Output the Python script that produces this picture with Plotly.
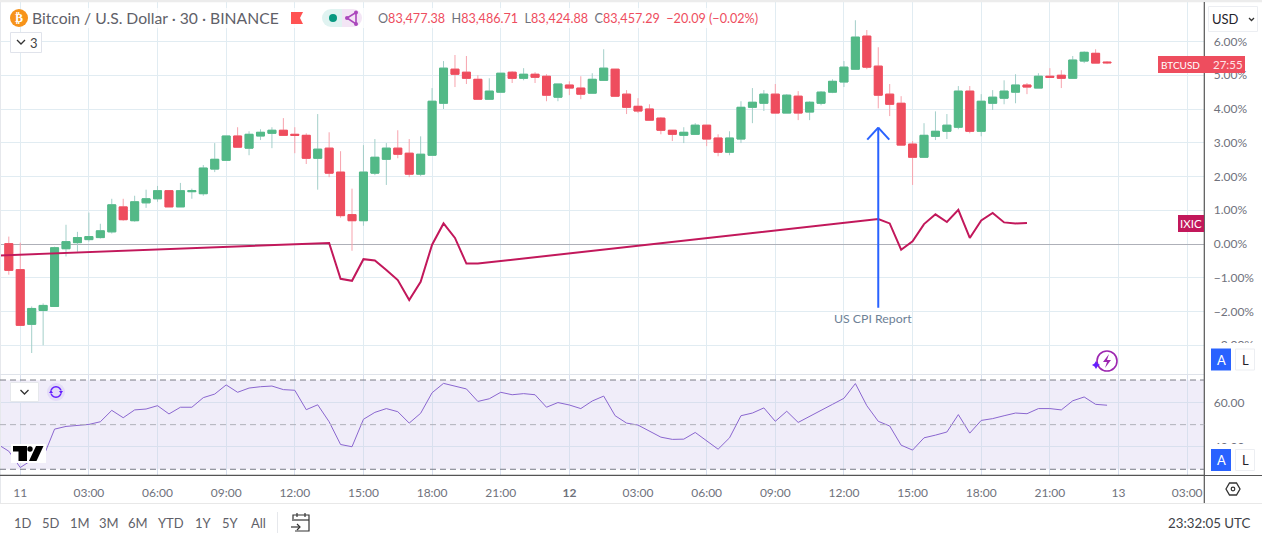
import pandas as pd
import plotly.graph_objects as go

W, H = 1262, 540
FONT = "Lato"

# half-hour bars, first bar is 10 Mar 23:30
bar_start = "2025-03-10 23:30"
opens = [0.01,-0.76,-2.38,-1.97,-1.85,-0.14,0.04,0.13,0.19,0.36,1.10,0.69,1.22,1.34,1.58,1.10,1.55,1.49,2.22,2.48,3.20,2.84,3.20,3.28,3.37,3.25,3.22,2.54,2.84,2.13,0.87,0.69,2.10,2.51,2.84,2.69,2.07,2.63,4.17,5.18,5.09,4.88,4.29,4.50,5.09,4.91,5.03,4.97,4.35,4.71,4.62,4.47,4.85,5.18,4.44,4.08,4.00,3.73,3.37,3.22,3.25,3.52,3.14,2.72,3.11,4.05,4.17,4.44,3.88,4.38,3.91,4.17,4.50,4.80,5.18,6.16,5.27,4.44,4.17,2.96,2.57,3.19,3.34,3.46,4.53,3.34,4.17,4.32,4.50,4.71,4.62,4.97,5.00,4.91,5.42,5.65,5.39]
highs = [0.22,0.04,-1.85,-1.76,-0.08,0.57,0.36,0.93,0.60,1.34,1.34,1.43,1.61,1.72,1.58,1.81,1.64,2.34,2.99,3.20,3.46,3.34,3.40,3.46,3.73,3.46,3.28,3.85,3.31,2.75,1.64,2.93,3.11,2.99,3.37,3.11,3.19,4.62,5.42,5.60,5.57,5.00,4.91,5.06,5.12,5.21,5.09,5.03,4.74,4.82,4.97,5.06,5.77,5.18,4.56,4.32,4.14,3.76,3.37,3.46,3.58,3.52,3.25,3.34,4.23,4.62,4.56,4.74,4.44,4.53,4.23,4.53,4.88,5.42,6.63,6.34,5.83,4.74,4.38,3.05,3.58,3.93,3.85,4.68,4.68,4.44,4.56,4.85,5.03,4.77,5.06,5.21,5.15,5.57,5.71,5.77,5.42]
lows = [-0.91,-2.41,-3.23,-3.00,-1.85,-0.37,-0.23,0.07,0.16,0.31,0.69,0.66,1.07,1.25,1.10,1.10,1.34,1.43,2.13,2.48,2.87,2.63,3.08,2.84,3.22,2.69,2.37,1.61,1.98,0.78,-0.20,0.54,2.04,1.75,2.54,1.98,2.01,2.63,4.00,4.65,4.74,4.29,4.29,4.50,4.77,4.85,4.77,4.23,4.23,4.41,4.29,4.47,4.85,4.38,3.85,3.88,3.67,3.25,3.05,2.99,3.25,2.90,2.60,2.63,2.99,3.58,3.94,3.88,3.88,3.67,3.67,4.11,4.47,4.65,5.18,5.18,4.02,3.79,2.93,1.75,2.57,3.08,3.11,3.40,3.28,3.19,3.97,4.14,4.17,4.44,4.62,4.94,4.62,4.91,5.36,5.36,5.33]
closes = [-0.78,-2.41,-1.91,-1.82,-0.11,0.07,0.19,0.22,0.39,1.16,0.72,1.25,1.34,1.58,1.10,1.58,1.58,2.25,2.51,3.20,2.87,3.25,3.31,3.37,3.22,3.22,2.54,2.81,2.10,0.84,0.69,2.13,2.57,2.84,2.66,2.07,2.66,4.23,5.21,5.03,4.91,4.29,4.53,5.06,4.91,5.03,4.94,4.41,4.74,4.62,4.44,4.88,5.21,4.38,4.05,3.94,3.67,3.37,3.25,3.31,3.52,3.11,2.72,3.14,4.05,4.20,4.44,3.88,4.41,3.88,4.20,4.50,4.82,5.24,6.13,5.24,4.41,4.14,2.93,2.57,3.22,3.34,3.52,4.53,3.34,4.23,4.35,4.53,4.71,4.65,4.97,4.94,4.91,5.45,5.68,5.36,5.37]

# IXIC: bar number since bar_start, percent
ixic_bars = [-1,28,29,30,31,32,33,34,35,36,37,38,39,40,41,76,77,78,79,80,81,82,83,84,85,86,87,88,89]
ixic_vals = [-0.34,0.03,-1.03,-1.09,-0.45,-0.49,-0.77,-1.07,-1.66,-1.12,-0.02,0.61,0.18,-0.58,-0.58,0.74,0.61,-0.17,0.08,0.59,0.88,0.65,1.01,0.18,0.70,0.92,0.64,0.61,0.62]

rsi_vals = [38.1,30.8,34.1,35.3,48.0,49.2,49.8,50.1,51.3,56.4,53.1,56.6,57.0,58.5,54.8,57.8,57.8,62.1,63.7,67.8,64.5,66.4,67.0,67.3,65.7,65.4,56.7,58.9,51.3,41.1,40.1,52.4,55.5,57.2,55.8,50.7,55.1,64.3,68.5,67.3,66.0,60.4,61.6,64.5,63.4,63.9,63.4,57.8,59.9,58.8,57.2,60.6,62.8,54.0,50.7,49.8,47.1,44.4,43.4,43.5,46.5,42.6,39.0,44.1,54.0,55.2,57.5,51.5,56.0,51.0,53.6,56.3,59.1,61.8,68.4,58.5,51.5,49.4,40.8,38.6,44.1,45.3,46.7,54.5,46.2,51.9,52.7,54.0,55.2,54.9,57.2,57.2,56.6,60.7,62.4,59.1,58.7]
rsi_first_time = "2025-03-10 23:00"
rsi_first_val = 41.3

tick_times = ["2025-03-11 00:00","2025-03-11 03:00","2025-03-11 06:00","2025-03-11 09:00","2025-03-11 12:00","2025-03-11 15:00","2025-03-11 18:00","2025-03-11 21:00","2025-03-12 00:00","2025-03-12 03:00","2025-03-12 06:00","2025-03-12 09:00","2025-03-12 12:00","2025-03-12 15:00","2025-03-12 18:00","2025-03-12 21:00","2025-03-13 00:00","2025-03-13 03:00"]
tick_labels = ["11","03:00","06:00","09:00","12:00","15:00","18:00","21:00","<b>12</b>","03:00","06:00","09:00","12:00","15:00","18:00","21:00","13","03:00"]
pct_ticks = [6,5,4,3,2,1,0,-1,-2,-3]
pct_labels = ["6.00%","5.00%","4.00%","3.00%","2.00%","1.00%","0.00%","\u22121.00%","\u22122.00%","\u22123.00%"]
range_buttons = ["1D","5D","1M","3M","6M","YTD","1Y","5Y","All"]
range_button_px = [23,51,80,109,138,171,203,230,258]

GREEN, RED = "#53b987", "#ee4d5e"
GREEN_WICK, RED_WICK = "#a3cfc9", "#f7a3ad"
GRID = "#e1ecf2"
LABEL = "#6f727c"

times = pd.date_range(bar_start, periods=len(closes), freq="30min")
t0 = pd.Timestamp(bar_start)
def bar_time(n):
    return t0 + pd.Timedelta(minutes=30 * n)

# pixel helpers for chart furniture
def px(x): return x / W
def py(y): return 1 - y / H
PANE_R = 1204.3
x_range = [bar_time(-0.77), bar_time(104.5)]

fig = go.Figure()
fig.add_trace(go.Candlestick(
    x=times, open=opens, high=highs, low=lows, close=closes,
    increasing=dict(line=dict(color=GREEN_WICK, width=1), fillcolor=GREEN),
    decreasing=dict(line=dict(color=RED_WICK, width=1), fillcolor=RED),
    hoverinfo="skip", xaxis="x", yaxis="y"))
fig.add_trace(go.Candlestick(
    x=times, open=opens, close=closes,
    high=[max(a, b) for a, b in zip(opens, closes)],
    low=[min(a, b) for a, b in zip(opens, closes)],
    increasing=dict(line=dict(color=GREEN, width=1), fillcolor=GREEN),
    decreasing=dict(line=dict(color=RED, width=1), fillcolor=RED),
    hoverinfo="skip", xaxis="x", yaxis="y"))
fig.add_trace(go.Scatter(
    x=[bar_time(n) for n in ixic_bars], y=ixic_vals, mode="lines",
    line=dict(color="#c2185b", width=2), hoverinfo="skip", xaxis="x", yaxis="y"))
fig.add_trace(go.Scatter(
    x=[pd.Timestamp(rsi_first_time)] + list(times), y=[rsi_first_val] + rsi_vals, mode="lines",
    line=dict(color="#8a66cf", width=1), hoverinfo="skip", xaxis="x2", yaxis="y2"))

shapes, ann = [], []
def rect(x0, y0, x1, y1, fill, line=None, layer="above", lw=1):
    shapes.append(dict(type="rect", xref="paper", yref="paper", x0=px(x0), x1=px(x1), y0=py(y0), y1=py(y1),
                       fillcolor=fill, line=dict(color=line or "rgba(0,0,0,0)", width=lw if line else 0), layer=layer))
def circle(cx, cy, r, fill, line=None, lw=1):
    shapes.append(dict(type="circle", xref="paper", yref="paper", x0=px(cx - r), x1=px(cx + r), y0=py(cy - r), y1=py(cy + r),
                       fillcolor=fill, line=dict(color=line or "rgba(0,0,0,0)", width=lw if line else 0), layer="above"))
def seg(x0, y0, x1, y1, color, lw=1, dash="solid", layer="above"):
    shapes.append(dict(type="line", xref="paper", yref="paper", x0=px(x0), x1=px(x1), y0=py(y0), y1=py(y1),
                       line=dict(color=color, width=lw, dash=dash), layer=layer))
def poly(points, fill=None, line=None, lw=1, close=True):
    d = "M" + " L".join(f"{px(a):.5f},{py(b):.5f}" for a, b in points) + (" Z" if close else "")
    shapes.append(dict(type="path", xref="paper", yref="paper", path=d, fillcolor=fill or "rgba(0,0,0,0)",
                       line=dict(color=line or "rgba(0,0,0,0)", width=lw if line else 0), layer="above"))
def text(x, y, s, size=12, color=LABEL, anchor="left", family=FONT):
    ann.append(dict(xref="paper", yref="paper", x=px(x), y=py(y), text=s, showarrow=False, xanchor=anchor, yanchor="middle",
                    font=dict(size=size, color=color, family=family), xshift=0, yshift=0, borderpad=0, borderwidth=0))

# panes
rect(0, 380.3, PANE_R, 469.3, "#f0edf9", layer="below")
rect(0, 0, W, 2.2, "#ececec")
seg(0.5, 2, 0.5, 503, "#e6e8ec")
seg(0, 374.5, PANE_R, 374.5, "#dfe3ea")
seg(0, 503.5, W, 503.5, "#e8e8e8")
seg(0, 475.3, W, 475.3, "#555555", 1.2)
seg(PANE_R, 2, PANE_R, 503, "#555555", 1.2)

# RSI levels
for level, col in [(70, "#787b86"), (50, "#b0b2bb"), (30, "#787b86")]:
    shapes.append(dict(type="line", xref="paper", yref="y2", x0=0, x1=px(PANE_R), y0=level, y1=level,
                       line=dict(color=col, width=1, dash="6px,4px"), layer="above"))

# arrow drawing
arrow_t = bar_time(76)
shapes.append(dict(type="line", xref="x", yref="y", x0=arrow_t, x1=arrow_t, y0=-1.89, y1=3.45,
                   line=dict(color="#2962ff", width=2), layer="above"))
for sign in (-1, 1):
    shapes.append(dict(type="line", xref="x", yref="y", xsizemode="pixel", ysizemode="pixel",
                       xanchor=arrow_t, yanchor=3.45, x0=0, y0=0, x1=sign * 11, y1=-12,
                       line=dict(color="#2962ff", width=2), layer="above"))
ann.append(dict(xref="x", yref="y", x=arrow_t, y=-2.2, text="US CPI Report", showarrow=False, xshift=-5.5,
                font=dict(size=12.3, color="#6d8196", family=FONT)))

# legend header
rect(28, 8, 770, 28, "rgba(255,255,255,0.72)")
circle(19, 18, 9, "#f7931a")
text(19, 18, "<b>\u20bf</b>", 12, "#ffffff", "center", "DejaVu Sans")
text(32, 18.5, "Bitcoin / U.S. Dollar \u00b7 30 \u00b7 BINANCE", 15.7, "#5f6169")
poly([(291, 12), (303, 12), (300, 18), (303, 24), (291, 24)], "#ff5252")
circle(331, 18, 9, "#e0f3f1")
circle(353, 18, 9, "#f3e5f5")
rect(331, 9, 342, 27, "#e0f3f1")
rect(342, 9, 353, 27, "#f3e5f5")
circle(333, 18, 4, "#089981")
poly([(356, 12.5), (347, 18), (356, 24), (356, 12.5)], None, "#ab47bc", 1.6)
for cx, cy in [(356, 12.5), (347, 18), (356, 24)]:
    circle(cx, cy, 2, "#ab47bc")
g = lambda s: f'<span style="color:#6f727c">{s}</span>'
text(378, 18.5, g("O") + "83,477.38  " + g("H") + "83,486.71  " + g("L") + "83,424.88  " + g("C") + "83,457.29  \u221220.09 (\u22120.02%)", 12.6, RED)

# collapse button
rect(10.5, 32.5, 41.5, 52.5, "#ffffff", "#e0e3eb")
poly([(17, 40), (21, 44), (25, 40)], None, "#333333", 1.3, close=False)
text(30, 43, "3", 13, "#444444")

# USD button
rect(1208.5, 6.5, 1257.5, 31.5, "#ffffff", "#eceef2")
text(1212, 19, "USD", 13, "#1f222b")
poly([(1249, 18), (1251.5, 20.5), (1254, 18)], None, "#333333", 1.3, close=False)

# last price tags
rect(1158, 56, 1245, 73, RED)
text(1161, 65, "BTCUSD", 10, "#ffffff")
text(1213, 65, "27:55", 11.5, "#ffe3e6")
rect(1178, 215, 1204, 232, "#c2185b")
text(1191, 224, "IXIC", 11.5, "#ffffff", "center")

# scale buttons, covering the lower tick labels
rect(1205, 343, 1262, 375, "#ffffff")
rect(1205, 444, 1262, 475, "#ffffff")
for top in (348.5, 449):
    rect(1211, top, 1231, top + 22, "#2962ff")
    text(1221, top + 11, "A", 13, "#ffffff", "center")
    rect(1235.5, top + .5, 1254.5, top + 21.5, "#ffffff", "#eceef2")
    text(1245, top + 11, "L", 13, "#1f222b", "center")

# assistant badge
circle(1107, 361, 10, "rgba(255,255,255,0)", "#9c27b0", 1.6)
poly([(1109, 354), (1103, 362), (1107, 362), (1105, 368), (1111, 360), (1107, 360)], "#9c27b0")
poly([(1096, 361), (1097.5, 363.5), (1100, 365), (1097.5, 366.5), (1096, 369), (1094.5, 366.5), (1092, 365), (1094.5, 363.5)], "#651fff")

# RSI legend buttons
rect(10.5, 382.5, 38.5, 401.5, "#ffffff", "#e6e8ec")
poly([(20.5, 390), (24.5, 394), (28.5, 390)], None, "#333333", 1.3, close=False)
circle(56, 392, 9, "#e3dcf7")
circle(56, 392, 5.2, "rgba(0,0,0,0)", "#651fff", 1.5)
circle(56, 392, 2.6, "#e3dcf7")
rect(49, 390.5, 63, 393.5, "#e3dcf7")
poly([(49, 393), (51, 390), (53, 393)], "#651fff")
poly([(59, 391), (61, 394), (63, 391)], "#651fff")

# watermark
rect(11, 444, 46, 463, "#ffffff")
poly([(13, 446), (27, 446), (27, 461), (18.5, 461), (18.5, 451.5), (13, 451.5)], "#000000")
circle(30, 449, 2.7, "#000000")
poly([(36, 446), (43.5, 446), (36.5, 461), (29, 461)], "#000000")

# date-range bar
for label, x in zip(range_buttons, range_button_px):
    text(x, 523, label, 13, "#5f6169", "center")
seg(277.5, 512, 277.5, 533, "#e6e8ec")
poly([(293, 519), (293, 515), (309, 515), (309, 531), (295, 531)], None, "#333333", 1.2, close=False)
seg(292, 520, 309, 520, "#333333", 1.2)
seg(297, 513, 297, 517, "#333333", 1.2)
seg(305, 513, 305, 517, "#333333", 1.2)
seg(291, 527, 300, 527, "#333333", 1.2)
poly([(297, 524), (300, 527), (297, 530)], None, "#333333", 1.2, close=False)
text(1251, 523, "23:32:05 UTC", 13.3, "#3d3f47", "right")

# hexagon settings
poly([(1226, 489), (1229.5, 483), (1236.5, 483), (1240, 489), (1236.5, 495), (1229.5, 495)], None, "#333333", 1.3)
circle(1233, 489, 1.8, "rgba(0,0,0,0)", "#333333", 1.2)

fig.update_layout(
    width=W, height=H, margin=dict(l=0, r=0, t=0, b=0), showlegend=False,
    paper_bgcolor="#ffffff", plot_bgcolor="rgba(0,0,0,0)", hovermode=False,
    boxmode="overlay", boxgap=0.0,
    font=dict(family=FONT, size=12, color=LABEL), shapes=shapes, annotations=ann,
    xaxis=dict(domain=[0, px(PANE_R)], range=x_range, type="date", rangeslider=dict(visible=False),
               anchor="y", tickvals=tick_times, ticktext=[""] * len(tick_times), showgrid=True, gridcolor=GRID,
               gridwidth=1, showline=False, zeroline=False, ticks=""),
    yaxis=dict(domain=[py(374.5), py(2)], range=[(244 - 374.5) / 33.75, (244 - 2) / 33.75], side="right", anchor="x",
               tickvals=pct_ticks, ticktext=pct_labels, showgrid=True, gridcolor=GRID, gridwidth=1,
               zeroline=True, zerolinecolor="#aeb0b8", zerolinewidth=1, showline=False,
               ticks="outside", ticklen=6, tickcolor="rgba(0,0,0,0)", tickfont=dict(size=12, color=LABEL, family=FONT)),
    xaxis2=dict(domain=[0, px(PANE_R)], range=x_range, type="date", anchor="y2", matches="x",
                tickvals=tick_times, ticktext=tick_labels, showgrid=True, gridcolor="#d9e0ee", gridwidth=1,
                showline=False, zeroline=False, ticks="outside", ticklen=6, tickcolor="rgba(0,0,0,0)",
                tickfont=dict(size=12, color=LABEL, family=FONT), tickangle=0),
    yaxis2=dict(domain=[py(475.3), py(375)], range=[70 - (475 - 380) / 2.225, 70 - (375 - 380) / 2.225], side="right", anchor="x2",
                tickvals=[60, 40], ticktext=["60.00", "40.00"], showgrid=True, gridcolor="#d9e0ee", gridwidth=1, zeroline=False,
                showline=False, ticks="outside", ticklen=6, tickcolor="rgba(0,0,0,0)", tickfont=dict(size=12, color=LABEL, family=FONT)),
)

fig.write_html("out.html", config={"displayModeBar": False},
               post_script="document.body.style.margin='0';document.body.style.overflow='hidden';")
